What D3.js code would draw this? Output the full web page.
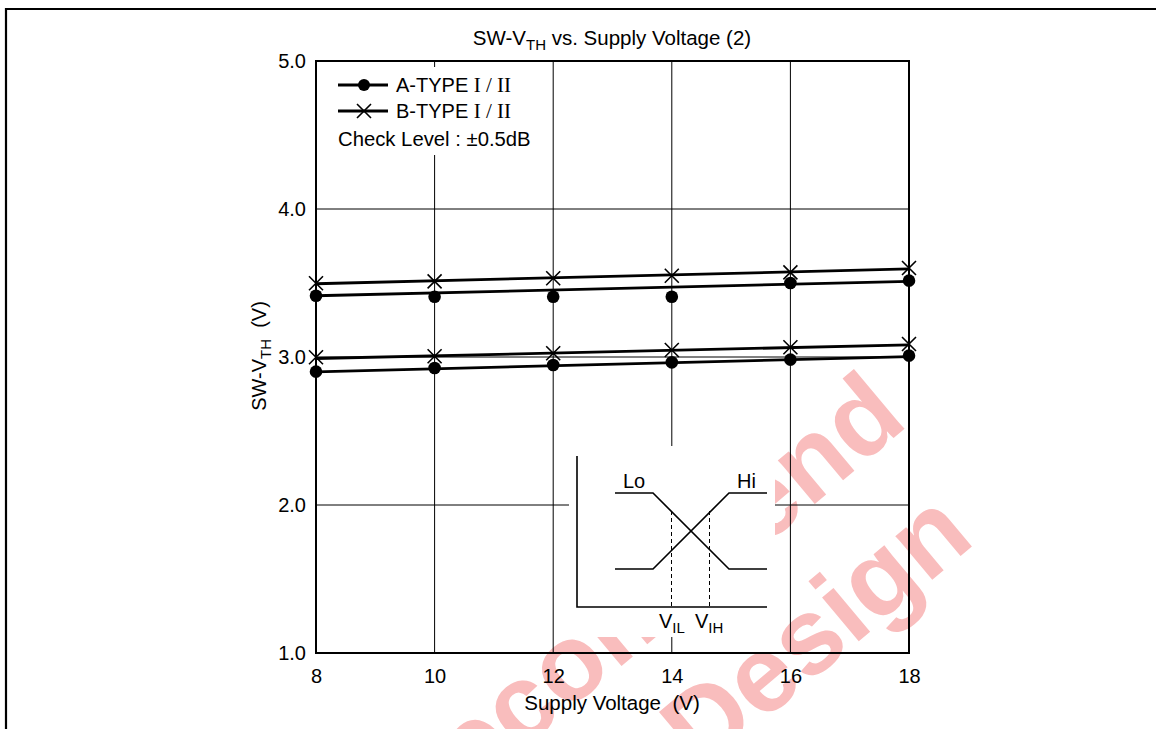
<!DOCTYPE html>
<html><head><meta charset="utf-8">
<script src="https://cdn.jsdelivr.net/npm/d3@7"></script>
<style>
body{margin:0;background:#fff;}
svg{display:block;font-family:"Liberation Sans",Arial,Helvetica,sans-serif;}
</style>
</head><body>
<svg id="chart" width="1156" height="729"></svg>
<script>
// ---------- data ----------
const supplyVoltage = [8, 10, 12, 14, 16, 18];
const aTypeUpper = [3.414, 3.407, 3.407, 3.407, 3.500, 3.516];
const aTypeLower = [2.901, 2.926, 2.946, 2.964, 2.982, 3.009];
const bTypeUpper = [3.498, 3.511, 3.532, 3.549, 3.572, 3.601];
const bTypeLower = [2.998, 3.005, 3.025, 3.047, 3.066, 3.088];
// fitted straight lines (values at 8 V and 18 V)
const fitVoltage = [8, 18];
const aUpperFit = [3.414, 3.511];
const aLowerFit = [2.900, 3.003];
const bUpperFit = [3.495, 3.595];
const bLowerFit = [2.990, 3.082];
const xTicks = [8, 10, 12, 14, 16, 18];
const yTicks = [1.0, 2.0, 3.0, 4.0, 5.0];

// ---------- setup ----------
const svg = d3.select("#chart");
const x = d3.scaleLinear().domain([8, 18]).range([316, 909]);
const y = d3.scaleLinear().domain([1, 5]).range([653, 61]);

svg.append("rect").attr("width", 1156).attr("height", 729).attr("fill", "#fff");

// watermark
const wm = svg.append("g").attr("fill", "#f9bdbd").attr("font-weight", "bold")
  .attr("font-size", 108).attr("text-anchor", "end");
wm.append("text").attr("transform", "translate(910,424) rotate(-40)").text("Not Recommend");
wm.append("text").attr("transform", "translate(977,542) rotate(-40)").text("for New Design");

// outer frame
svg.append("path").attr("d", "M6,729 V9 H1156").attr("fill", "none")
  .attr("stroke", "#000").attr("stroke-width", 2.2);

// grid
const grid = svg.append("g").attr("stroke", "#000").attr("stroke-width", 1);
grid.selectAll("line.v").data(xTicks).join("line").attr("class", "v")
  .attr("x1", d => x(d)).attr("x2", d => x(d)).attr("y1", y(5)).attr("y2", y(1));
grid.selectAll("line.h").data(yTicks).join("line").attr("class", "h")
  .attr("y1", d => y(d)).attr("y2", d => y(d)).attr("x1", x(8)).attr("x2", x(18));

// legend box (white)
svg.append("rect").attr("x", 322).attr("y", 67).attr("width", 226).attr("height", 88).attr("fill", "#fff");
// inset box (white)
svg.append("rect").attr("x", 569).attr("y", 446).attr("width", 206).attr("height", 191).attr("fill", "#fff");

// plot frame
svg.append("rect").attr("x", x(8)).attr("y", y(5)).attr("width", x(18) - x(8)).attr("height", y(1) - y(5))
  .attr("fill", "none").attr("stroke", "#000").attr("stroke-width", 2);

// axes
const fmt = d3.format(".1f");
const yAxis = svg.append("g").attr("transform", `translate(${x(8)},0)`)
  .call(d3.axisLeft(y).tickValues(yTicks).tickSize(0).tickPadding(10).tickFormat(fmt));
const xAxis = svg.append("g").attr("transform", `translate(0,${y(1)})`)
  .call(d3.axisBottom(x).tickValues(xTicks).tickSize(0).tickPadding(16));
[yAxis, xAxis].forEach(a => {
  a.select(".domain").remove();
  a.selectAll("text").attr("font-size", 20).attr("font-family", "Liberation Sans, Arial, sans-serif").attr("fill", "#000");
});

// titles
const title = svg.append("text").attr("x", 612).attr("y", 45).attr("text-anchor", "middle").attr("font-size", 20.5);
title.append("tspan").text("SW-V");
title.append("tspan").attr("font-size", 15).attr("dy", 5).text("TH");
title.append("tspan").attr("dy", -5).text(" vs. Supply Voltage (2)");

svg.append("text").attr("x", 612).attr("y", 710).attr("text-anchor", "middle").attr("font-size", 20.5)
  .attr("style", "white-space:pre").text("Supply Voltage  (V)");

const yt = svg.append("text").attr("transform", "translate(266,356) rotate(-90)")
  .attr("text-anchor", "middle").attr("font-size", 20).attr("style", "white-space:pre");
yt.append("tspan").text("SW-V");
yt.append("tspan").attr("font-size", 15).attr("dy", 5).text("TH");
yt.append("tspan").attr("dy", -5).text("  (V)");

// data lines
const line = d3.line().x((d, i) => x(fitVoltage[i])).y(d => y(d));
const lines = svg.append("g").attr("fill", "none").attr("stroke", "#000").attr("stroke-width", 2.8);
[aUpperFit, aLowerFit, bUpperFit, bLowerFit].forEach(s => lines.append("path").attr("d", line(s)));

// markers
const dots = svg.append("g").attr("fill", "#000");
[aTypeUpper, aTypeLower].forEach(s => {
  dots.selectAll(null).data(s).join("circle")
    .attr("cx", (d, i) => x(supplyVoltage[i])).attr("cy", d => y(d)).attr("r", 6.3);
});
const crossPath = "M-7,-7L7,7M-7,7L7,-7";
const crosses = svg.append("g").attr("stroke", "#000").attr("stroke-width", 1.6).attr("fill", "none");
[bTypeUpper, bTypeLower].forEach(s => {
  crosses.selectAll(null).data(s).join("path")
    .attr("transform", (d, i) => `translate(${x(supplyVoltage[i])},${y(d)})`).attr("d", crossPath);
});

// legend
const lg = svg.append("g");
lg.append("line").attr("x1", 338).attr("x2", 388).attr("y1", 85).attr("y2", 85).attr("stroke", "#000").attr("stroke-width", 2.8);
lg.append("circle").attr("cx", 364).attr("cy", 85).attr("r", 6);
lg.append("line").attr("x1", 338).attr("x2", 388).attr("y1", 111).attr("y2", 111).attr("stroke", "#000").attr("stroke-width", 2.8);
lg.append("path").attr("transform", "translate(364,111)").attr("d", crossPath).attr("stroke", "#000").attr("stroke-width", 1.6);
const legendNames = ["A-TYPE ", "B-TYPE "];
legendNames.forEach((n, i) => {
  const t = lg.append("text").attr("x", 396).attr("y", 92 + i * 26).attr("font-size", 20).attr("style", "white-space:pre");
  t.append("tspan").text(n);
  t.append("tspan").attr("font-family", "Liberation Serif, Times New Roman, serif").attr("font-size", 21).text("I / II");
});
lg.append("text").attr("x", 338).attr("y", 146).attr("font-size", 20.3).text("Check Level : ±0.5dB");

// inset diagram
const ins = svg.append("g").attr("stroke", "#000").attr("fill", "none").attr("stroke-width", 1.6);
ins.append("path").attr("d", "M577,456V607H767");
ins.append("path").attr("d", "M615,493H653L729,569H767");
ins.append("path").attr("d", "M615,569H653L729,493H767");
ins.append("path").attr("d", "M671.5,511V607M709.5,511V607").attr("stroke-width", 1).attr("stroke-dasharray", "4,3");
const it = svg.append("g").attr("font-size", 20).attr("fill", "#000");
it.append("text").attr("x", 623).attr("y", 488).text("Lo");
it.append("text").attr("x", 737).attr("y", 488).text("Hi");
const vil = it.append("text").attr("x", 659).attr("y", 628);
vil.append("tspan").text("V"); vil.append("tspan").attr("font-size", 15).attr("dy", 5).text("IL");
const vih = it.append("text").attr("x", 695).attr("y", 628);
vih.append("tspan").text("V"); vih.append("tspan").attr("font-size", 15).attr("dy", 5).text("IH");
</script>
</body></html>
